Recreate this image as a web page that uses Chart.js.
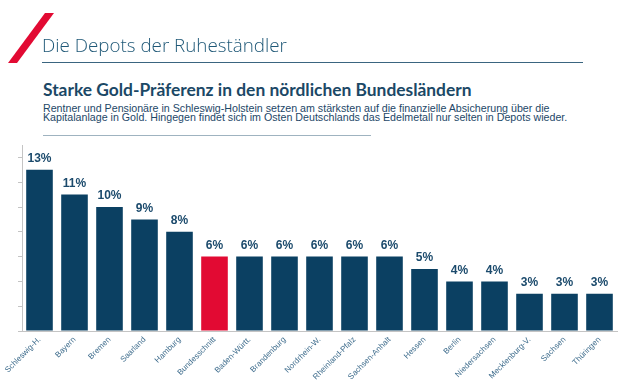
<!DOCTYPE html>
<html>
<head>
<meta charset="utf-8">
<script src="https://cdn.jsdelivr.net/npm/chart.js@4"></script>
<style>
	body { margin: 0; background: #fff; width: 621px; height: 383px; overflow: hidden; position: relative; font-family: "Liberation Sans", Arial, sans-serif; }
	.txt { position: absolute; white-space: nowrap; }
	#slash { position: absolute; left: 0; top: 0; }
	#title { left: 42px; top: 32px; font-family: "Open Sans", sans-serif; font-weight: 300; font-size: 19px; color: #1f5877; }
	#rule1 { position: absolute; left: 42px; top: 62px; width: 541px; height: 1px; background: #3a6580; }
	#head { left: 43px; top: 79px; font-family: "Lato", sans-serif; font-weight: 700; font-size: 16px; color: #1b4866; }
	.body { left: 43px; font-size: 11px; color: #1d4768; }
	#line1 { top: 102px; }
	#line2 { top: 111px; }
	#rule2 { position: absolute; left: 43px; top: 135px; width: 328px; height: 1px; background: #9fb3c0; }
	#wrap { position: absolute; left: 0; top: 140px; width: 621px; height: 243px; }
</style>
</head>
<body>
<canvas id="slash" width="70" height="70"></canvas>
<div id="title" class="txt" data-w="245">Die Depots der Ruheständler</div>
<div id="rule1"></div>
<div id="head" class="txt" data-w="429">Starke Gold-Präferenz in den nördlichen Bundesländern</div>
<div id="line1" class="txt body" data-w="507">Rentner und Pensionäre in Schleswig-Holstein setzen am stärksten auf die finanzielle Absicherung über die</div>
<div id="line2" class="txt body" data-w="525">Kapitalanlage in Gold. Hingegen findet sich im Osten Deutschlands das Edelmetall nur selten in Depots wieder.</div>
<div id="rule2"></div>
<div id="wrap"><canvas id="chart"></canvas></div>
<script>
// Chart data
const laender = ['Schleswig-H.', 'Bayern', 'Bremen', 'Saarland', 'Hamburg', 'Bundesschnitt', 'Baden-Württ.', 'Brandenburg', 'Nordrhein-W.', 'Rheinland-Pfalz', 'Sachsen-Anhalt', 'Hessen', 'Berlin', 'Niedersachsen', 'Mecklenburg-V.', 'Sachsen', 'Thüringen'];
const anteil = [13, 11, 10, 9, 8, 6, 6, 6, 6, 6, 6, 5, 4, 4, 3, 3, 3];
const highlight = 'Bundesschnitt';

const NAVY = '#0b4062';
const RED = '#e20a33';

// red slash next to the title
(function drawSlash() {
	const ctx = document.getElementById('slash').getContext('2d');
	ctx.fillStyle = RED;
	ctx.beginPath();
	ctx.moveTo(45, 13);
	ctx.lineTo(54, 13);
	ctx.lineTo(17, 63);
	ctx.lineTo(8, 63);
	ctx.closePath();
	ctx.fill();
})();

// squeeze header texts to the widths of the original
document.querySelectorAll('.txt').forEach((el) => {
	const target = +el.dataset.w;
	let size = parseFloat(getComputedStyle(el).fontSize);
	for (let i = 0; i < 30; i++) {
		const w = el.getBoundingClientRect().width;
		if (Math.abs(w - target) < 1) break;
		size *= target / w;
		el.style.fontSize = size + 'px';
	}
});

const valueLabels = {
	id: 'valueLabels',
	afterDatasetsDraw(chart) {
		const ctx = chart.ctx;
		const meta = chart.getDatasetMeta(0);
		ctx.save();
		ctx.font = 'bold 12px "Liberation Sans", Arial, sans-serif';
		ctx.fillStyle = '#1b4a6c';
		ctx.textAlign = 'center';
		ctx.textBaseline = 'bottom';
		meta.data.forEach((bar, i) => {
			ctx.fillText(anteil[i] + '%', bar.x, bar.y - 5);
		});
		ctx.restore();
	}
};

new Chart(document.getElementById('chart'), {
	type: 'bar',
	data: {
		labels: laender,
		datasets: [{
			data: anteil,
			backgroundColor: laender.map(l => l === highlight ? RED : NAVY),
			categoryPercentage: 0.76,
			barPercentage: 1
		}]
	},
	options: {
		responsive: true,
		maintainAspectRatio: false,
		animation: false,
		layout: { padding: { top: 5, right: 4, left: 0, bottom: 0 } },
		plugins: { legend: { display: false }, tooltip: { enabled: false } },
		scales: {
			x: {
				grid: { display: false, drawTicks: false },
				border: { color: '#c4c4c4' },
				ticks: {
					autoSkip: false,
					minRotation: 45,
					maxRotation: 45,
					padding: 4,
					color: '#3f6d8d',
					font: { size: 8, family: '"Liberation Sans", Arial, sans-serif' }
				},
				afterFit: (s) => { s.height = 52; }
			},
			y: {
				min: 0,
				max: 15,
				grid: { drawOnChartArea: false, tickLength: 4, color: '#c4c4c4' },
				border: { color: '#c4c4c4' },
				ticks: { stepSize: 2, includeBounds: false, display: false },
				afterFit: (s) => { s.width = 22; }
			}
		}
	},
	plugins: [valueLabels]
});
</script>
</body>
</html>
